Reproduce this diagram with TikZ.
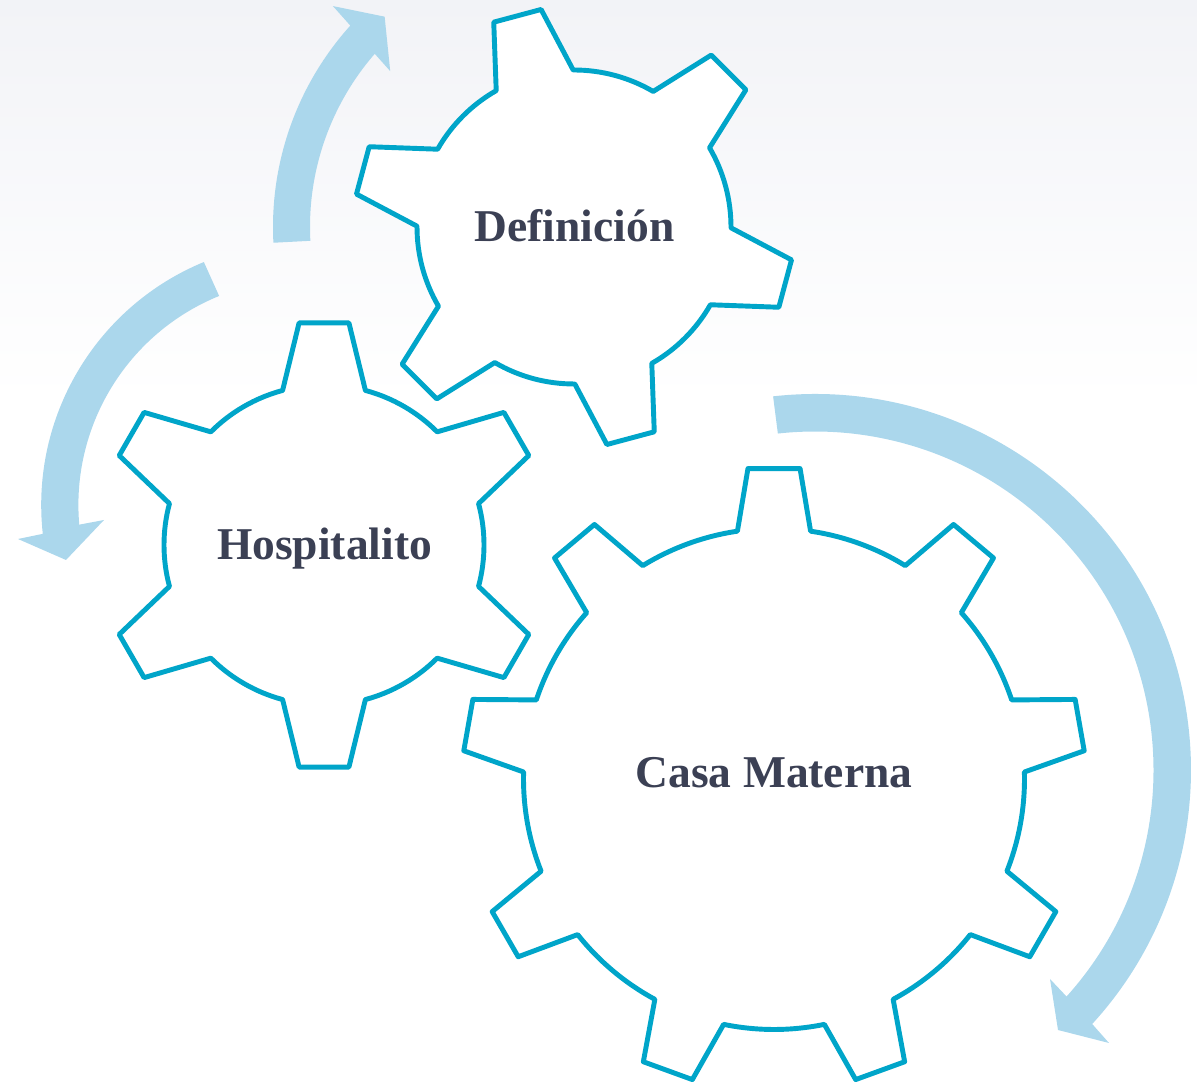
\documentclass[tikz,border=0pt]{standalone}
\usepackage{fontspec}
\setmainfont{Liberation Serif}
\definecolor{gearblue}{HTML}{00A5C9}
\definecolor{arrowblue}{HTML}{ABD7EC}
\definecolor{labelgrey}{HTML}{3B4054}
\definecolor{topgrey}{HTML}{F2F3F7}
\tikzset{every picture/.style={>=stealth},
  gearline/.style={draw=gearblue,fill=white,line width=2.8pt,line join=round},
  bigarrow/.style={fill=arrowblue,draw=none},
  label/.style={font=\fontsize{25.9}{30}\selectfont\bfseries,text=labelgrey,inner sep=0pt}}
% center x, center y, inner radius, outer radius, pitch, tooth angles, base half, tip half
\newcommand{\gearwheel}[8]{
  \draw [gearline,shift={(#1,#2)}] ({\GearFirst{#6}-#7}:#3)
    \foreach \a in {#6} { -- ({\a-#8}:#4) -- ({\a+#8}:#4) -- ({\a+#7}:#3)
      arc[start angle=\a+#7,end angle=\a+#5-#7,radius=#3] } -- cycle;
}
\def\GearFirst#1{\GearFirstX#1,\relax}
\def\GearFirstX#1,#2\relax{#1}

\begin{document}
\begin{tikzpicture}[x=0.02cm,y=0.02cm]
  \useasboundingbox (0,0) rectangle (1197,1082);
  \shade [top color=topgrey,bottom color=white,draw=none] (0,682) rectangle (1197,1082);
  % arrows
  \fill [bigarrow,shift={(574,855)}] (183:301) arc[start angle=183,end angle=138,radius=301]
    -- (137.5:327) -- (132:283) -- (139.7:241) -- (139:264)
    arc[start angle=139,end angle=183,radius=264] -- cycle;
  \fill [bigarrow,shift={(304,577)}] (112.4:262.8) arc[start angle=112.4,end angle=186.3,radius=262.8]
    -- (-286,-34) -- (-238,-55) -- (-200,-15)
    -- (185:225.6) arc[start angle=185,end angle=112.1,radius=225.6] -- cycle;
  \fill [bigarrow,shift={(815,312)}] (96.4:376) arc[start angle=96.4,end angle=-42.5,radius=376]
    -- (294,-273) -- (243,-260) -- (235,-209) -- (-42:338.5)
    arc[start angle=-42,end angle=96.3,radius=338.5] -- cycle;
  % gears
  \gearwheel{574}{855}{157}{220}{60}{45,105,...,345}{14.7}{6.4}
  \gearwheel{324}{537}{160}{223.5}{60}{30,90,...,330}{15}{6.4}
  \gearwheel{774}{303}{250.5}{311.5}{40}{10,50,...,330}{8.4}{4.8}
  \node (definicion) [label] at (574.5,856) {Definición};
  \node (hospitalito) [label] at (324.5,533) {Hospitalito};
  \node (casa) [label] at (774,309) {Casa Materna};
\end{tikzpicture}
\end{document}
